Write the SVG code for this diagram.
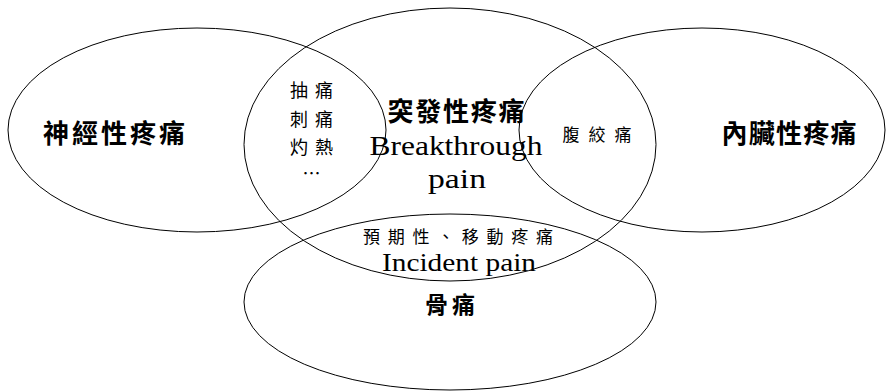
<svg xmlns="http://www.w3.org/2000/svg" width="886" height="392" viewBox="0 0 886 392">
<style>
.e{fill:none;stroke:#000;stroke-width:1}
.cj{font-family:"Noto Sans CJK TC","Noto Sans CJK SC",sans-serif;fill:#000;text-anchor:middle}
.b{font-weight:bold}
.lt{font-family:"Liberation Serif",serif;fill:#000;text-anchor:middle}
</style>
<rect width="886" height="392" fill="#fff"/>
<g id="connectors"></g>
<g id="neuropathic">
<ellipse class="e" cx="197" cy="130" rx="189" ry="102"/>
<text class="cj b" x="114" y="143" font-size="26" textLength="142" lengthAdjust="spacing">神經性疼痛</text>
</g>
<g id="breakthrough">
<ellipse class="e" cx="450" cy="144.5" rx="206" ry="136.5"/>
<text class="cj b" x="456" y="121" font-size="26" textLength="137" lengthAdjust="spacing">突發性疼痛</text>
<text class="lt" x="456" y="155" font-size="27" textLength="173" lengthAdjust="spacingAndGlyphs">Breakthrough</text>
<text class="lt" x="457" y="188" font-size="27" textLength="58" lengthAdjust="spacingAndGlyphs">pain</text>
</g>
<g id="visceral">
<ellipse class="e" cx="702" cy="130" rx="183" ry="102"/>
<text class="cj b" x="789" y="143" font-size="26" textLength="135" lengthAdjust="spacing">內臟性疼痛</text>
</g>
<g id="bone">
<ellipse class="e" cx="450" cy="302" rx="206" ry="88"/>
<text class="cj b" x="450" y="313" font-size="23" textLength="50" lengthAdjust="spacing">骨痛</text>
</g>
<g id="overlap-neuro">
<text class="cj" x="311.5" y="97" font-size="18" textLength="43" lengthAdjust="spacing">抽痛</text>
<text class="cj" x="311.5" y="126" font-size="18" textLength="43" lengthAdjust="spacing">刺痛</text>
<text class="cj" x="311.5" y="154" font-size="18" textLength="43" lengthAdjust="spacing">灼熱</text>
<text class="cj" x="311.5" y="180" font-size="18">…</text>
</g>
<g id="overlap-visceral">
<text class="cj" x="597" y="141" font-size="17" textLength="69" lengthAdjust="spacing">腹絞痛</text>
</g>
<g id="overlap-bone">
<text class="cj" x="458" y="243" font-size="17" textLength="190" lengthAdjust="spacing">預期性、移動疼痛</text>
<text class="lt" x="459" y="271" font-size="25" textLength="154" lengthAdjust="spacingAndGlyphs">Incident pain</text>
</g>
</svg>
